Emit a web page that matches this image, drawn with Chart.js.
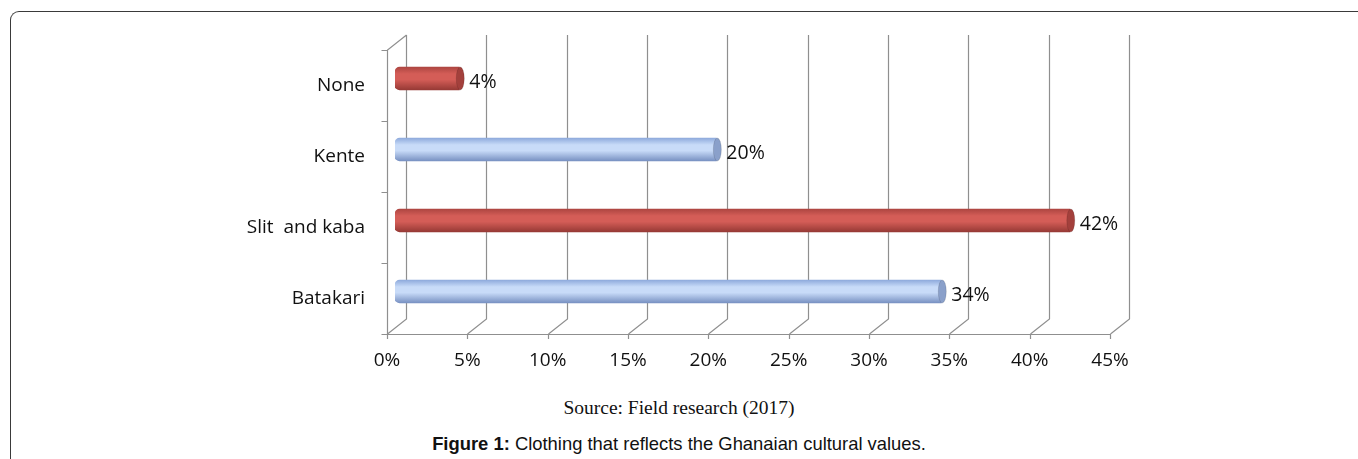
<!DOCTYPE html>
<html>
<head>
<meta charset="utf-8">
<script src="https://cdn.jsdelivr.net/npm/chart.js@4/dist/chart.umd.min.js"></script>
<style>
  html, body { margin:0; padding:0; background:#fff; }
  body { width:1358px; height:459px; position:relative; overflow:hidden; }
  #frame { position:absolute; left:10px; top:11px; width:1400px; height:500px;
           border-left:1.5px solid #3a3a3a; border-top:1.5px solid #3a3a3a; border-top-left-radius:9px; }
  #wrap { position:absolute; left:0; top:0; width:1358px; height:380px; }
  #source { position:absolute; left:0; width:1358px; top:397px; text-align:center;
            font-family:"Liberation Serif", serif; font-size:19.5px; color:#111; }
  #caption { position:absolute; left:0; width:1358px; top:433px; text-align:center;
             font-family:"Liberation Sans", Arial, sans-serif; font-size:18.4px; color:#111; }
</style>
</head>
<body>
<div id="frame"></div>
<div id="wrap"><canvas id="c"></canvas></div>
<div id="source">Source: Field research (2017)</div>
<div id="caption"><b>Figure 1:</b> Clothing that reflects the Ghanaian cultural values.</div>
<script>
// ---- data ----
const categories = ['None', 'Kente', 'Slit  and kaba', 'Batakari'];
const values = [4, 20, 42, 34];
const xTicks = [0, 5, 10, 15, 20, 25, 30, 35, 40, 45];

// ---- styles ----
const RED = { top:'#ad4541', mid:'#d45d57', bot:'#963935', cap:'#a3403c' };
const BLUE = { top:'#8eaadc', mid:'#c8dbf8', bot:'#7891c2', cap:'#8aa0ca' };
const palette = [RED, BLUE, RED, BLUE];
const DEPTH_X = 19, DEPTH_Y = -15;      // 3D wall depth
const BAR_X = 8, BAR_Y = -7;            // bars sit mid-depth
const BAR_H = 23;
const FONT = '"Open Sans", Lato, sans-serif';

function barGradient(c) {
  const chart = c.chart;
  if (!chart.chartArea || c.dataIndex === undefined) return palette[0].mid;
  const p = palette[c.dataIndex];
  const y = chart.scales.y.getPixelForValue(c.dataIndex);
  const g = chart.ctx.createLinearGradient(0, y - BAR_H/2, 0, y + BAR_H/2);
  g.addColorStop(0, p.top);
  g.addColorStop(0.3, p.mid);
  g.addColorStop(0.55, p.mid);
  g.addColorStop(1, p.bot);
  return g;
}

const threeD = {
  id: 'threeD',
  beforeDatasetsDraw(chart) {
    const { ctx, chartArea: a, scales: { x, y } } = chart;
    ctx.save();
    ctx.strokeStyle = '#8f8f8f';
    ctx.lineWidth = 1.2;
    ctx.beginPath();
    xTicks.forEach(v => {
      const px = Math.round(x.getPixelForValue(v)) + 0.5;
      ctx.moveTo(px, a.bottom);
      ctx.lineTo(px + DEPTH_X, a.bottom + DEPTH_Y);
      ctx.lineTo(px + DEPTH_X, a.top + DEPTH_Y);
      ctx.moveTo(px, a.bottom);
      ctx.lineTo(px, a.bottom + 5);
    });
    const lx = Math.round(a.left) + 0.5;
    ctx.moveTo(lx, a.bottom);
    ctx.lineTo(lx, a.top);
    ctx.lineTo(lx + DEPTH_X, a.top + DEPTH_Y);
    ctx.moveTo(lx - 5, a.bottom + 0.5);
    ctx.lineTo(Math.round(x.getPixelForValue(xTicks[xTicks.length-1])) + 0.5, a.bottom + 0.5);
    for (let i = 0; i <= categories.length; i++) {
      const yy = Math.round(a.top + (a.bottom - a.top) * i / categories.length) + 0.5;
      ctx.moveTo(lx - 6, yy);
      ctx.lineTo(lx, yy);
    }
    ctx.stroke();
    ctx.restore();
    ctx.save();
    ctx.translate(BAR_X, BAR_Y);
  },
  afterDatasetsDraw(chart) {
    const { ctx } = chart;
    const meta = chart.getDatasetMeta(0);
    meta.data.forEach((bar, i) => {
      const p = palette[i];
      ctx.beginPath();
      ctx.ellipse(bar.x + 1, bar.y, 4, BAR_H/2, 0, 0, Math.PI * 2);
      ctx.fillStyle = p.cap;
      ctx.fill();
      ctx.strokeStyle = 'rgba(0,0,0,0.15)';
      ctx.lineWidth = 0.8;
      ctx.stroke();
    });
    ctx.restore();
    ctx.save();
    ctx.font = '19.5px ' + FONT;
    ctx.fillStyle = '#111';
    ctx.textBaseline = 'middle';
    ctx.textAlign = 'left';
    meta.data.forEach((bar, i) => {
      ctx.fillText(values[i] + '%', bar.x + BAR_X + 10, bar.y + BAR_Y + 4);
    });
    ctx.restore();
  }
};

new Chart(document.getElementById('c'), {
  type: 'bar',
  data: {
    labels: categories,
    datasets: [{
      data: values,
      backgroundColor: barGradient,
      borderWidth: 0,
      barThickness: BAR_H,
      borderSkipped: false,
      borderRadius: { topLeft: 5, bottomLeft: 5, topRight: 0, bottomRight: 0 }
    }]
  },
  options: {
    indexAxis: 'y',
    responsive: true,
    maintainAspectRatio: false,
    animation: false,
    devicePixelRatio: 1,
    layout: { padding: { top: 50, right: 248, left: 0, bottom: 0 } },
    plugins: { legend: { display: false }, tooltip: { enabled: false } },
    scales: {
      x: {
        min: 0, max: 45,
        grid: { display: false, drawTicks: false },
        border: { display: false },
        afterBuildTicks(s) { s.ticks = xTicks.map(v => ({ value: v })); },
        afterFit(s) { s.height = 46; },
        ticks: {
          padding: 15,
          color: '#111',
          font: { family: FONT, size: 19 },
          maxRotation: 0,
          callback: v => v + '%'
        }
      },
      y: {
        grid: { display: false, drawTicks: false },
        border: { display: false },
        afterFit(s) { s.width = 387; },
        ticks: {
          padding: 22,
          color: '#111',
          font: { family: FONT, size: 19 }
        }
      }
    }
  },
  plugins: [threeD]
});
</script>
</body>
</html>
